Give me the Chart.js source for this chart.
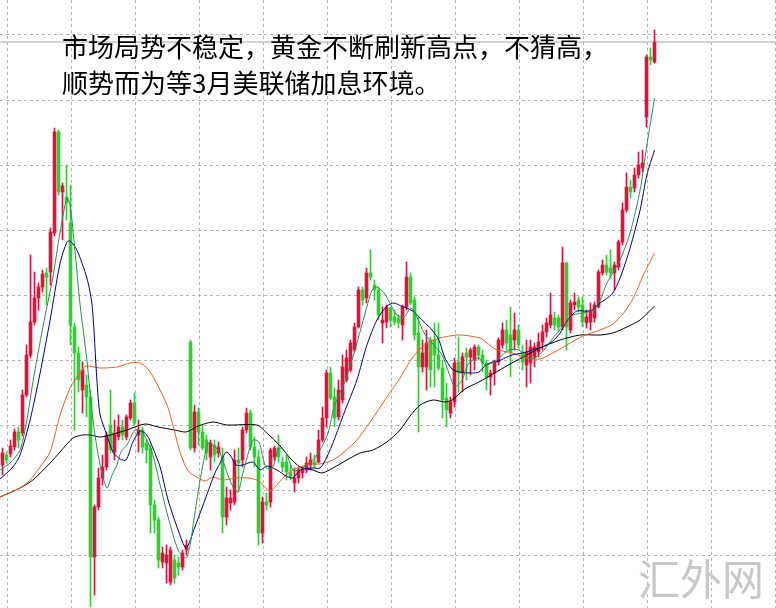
<!DOCTYPE html>
<html>
<head>
<meta charset="utf-8">
<title>黄金走势</title>
<script src="https://cdn.jsdelivr.net/npm/chart.js@4.4.1/dist/chart.umd.min.js"></script>
<style>
  html, body { margin: 0; padding: 0; background: #fff; }
  #wrap { position: relative; width: 776px; height: 608px; overflow: hidden; }
  #wrap canvas { position: absolute; left: 0; top: 0; }
  .note { position: absolute; left: 62px; top: 28px; font: 26px/36px "Noto Sans CJK SC", sans-serif; color: #000; white-space: nowrap; }
  .mark { position: absolute; left: 638px; top: 556px; font: 42px/42px "Noto Sans CJK SC", sans-serif; color: #c8c8c8; white-space: nowrap; }
</style>
</head>
<body>
<div id="wrap">
  <canvas id="kline" width="776" height="608"></canvas>
  <div class="note">市场局势不稳定，黄金不断刷新高点，不猜高，<br>顺势而为等3月美联储加息环境。</div>
  <div class="mark">汇外网</div>
</div>
<script>
// K线数据（每根一个值，按时间顺序）
const opens = [1635,1645,1646,1653,1668,1667,1705,1745,1778,1802,1813,1827,1828,1867,1968,1908,1903,1877,1773,1747,
  1710,1715,1703,1543,1593,1622,1633,1675,1648,1663,1673,1663,1682,1697,1665,1670,1657,1652,1595,1580,
  1538,1537,1518,1540,1537,1533,1550,1758,1652,1688,1668,1660,1643,1655,1647,1643,1583,1597,1598,1640,
  1640,1670,1687,1653,1643,1567,1598,1598,1643,1652,1638,1638,1628,1617,1622,1627,1630,1635,1638,1638,
  1660,1682,1727,1703,1683,1700,1720,1730,1750,1773,1810,1802,1827,1815,1810,1777,1778,1792,1783,1782,
  1775,1793,1823,1800,1767,1733,1733,1760,1760,1745,1732,1702,1687,1698,1738,1727,1747,1743,1740,1753,
  1745,1737,1723,1727,1738,1755,1770,1765,1760,1770,1748,1735,1737,1743,1748,1758,1768,1775,1782,1782,
  1773,1837,1770,1795,1800,1795,1777,1778,1782,1793,1827,1835,1832,1827,1833,1858,1890,1913,1912,1925,
  1932,1983,2043,2038];
const highs = [1652,1648,1660,1671,1673,1710,1755,1845,1828,1817,1830,1832,1872,1972,1970,1917,1935,1915,1777,1753,
  1738,1725,1710,1595,1632,1645,1668,1710,1680,1685,1680,1685,1700,1707,1680,1673,1660,1655,1600,1583,
  1553,1555,1553,1545,1543,1550,1560,1760,1695,1692,1675,1665,1660,1660,1658,1652,1613,1610,1650,1652,
  1673,1692,1690,1663,1650,1603,1607,1652,1654,1665,1643,1645,1635,1632,1633,1633,1643,1647,1645,1670,
  1693,1730,1733,1712,1720,1745,1750,1760,1777,1813,1813,1832,1850,1820,1813,1793,1795,1793,1790,1785,
  1795,1838,1827,1803,1783,1760,1770,1763,1777,1777,1740,1717,1703,1742,1763,1747,1752,1752,1755,1755,
  1750,1740,1730,1740,1762,1777,1780,1793,1787,1775,1755,1760,1760,1757,1767,1775,1782,1807,1788,1785,
  1853,1838,1800,1807,1803,1803,1790,1797,1798,1830,1840,1845,1850,1838,1860,1897,1927,1920,1932,1948,
  1950,2045,2052,2070];
const lows = [1625,1637,1643,1650,1652,1664,1703,1742,1775,1790,1808,1795,1815,1864,1905,1860,1880,1755,1670,1708,
  1687,1683,1493,1505,1590,1615,1630,1647,1640,1660,1660,1660,1680,1675,1648,1647,1637,1567,1567,1532,
  1532,1517,1515,1517,1525,1530,1545,1650,1648,1655,1650,1640,1630,1638,1643,1567,1575,1590,1595,1608,
  1633,1667,1650,1633,1555,1557,1590,1593,1640,1638,1628,1620,1620,1608,1617,1622,1627,1630,1632,1637,
  1658,1673,1700,1673,1680,1697,1718,1728,1748,1772,1795,1797,1820,1800,1780,1757,1772,1773,1775,1772,
  1760,1790,1795,1760,1668,1728,1710,1713,1713,1730,1682,1673,1682,1693,1708,1708,1720,1725,1730,1740,
  1728,1710,1705,1715,1735,1752,1750,1723,1750,1752,1730,1713,1717,1733,1743,1750,1763,1772,1770,1768,
  1770,1750,1767,1790,1788,1773,1772,1770,1778,1792,1825,1825,1822,1810,1830,1855,1888,1902,1908,1922,
  1928,1973,2035,2037];
const closes = [1647,1640,1654,1668,1660,1705,1745,1778,1802,1813,1826,1823,1868,1968,1908,1914,1897,1775,1747,1720,
  1730,1703,1543,1593,1622,1633,1665,1650,1667,1673,1665,1683,1697,1677,1670,1653,1650,1595,1580,1540,
  1547,1545,1550,1522,1533,1547,1555,1652,1688,1668,1652,1647,1657,1645,1653,1583,1602,1602,1640,1637,
  1670,1687,1653,1643,1567,1598,1595,1650,1652,1643,1633,1628,1623,1622,1630,1630,1637,1640,1635,1660,
  1682,1727,1702,1682,1710,1733,1742,1757,1773,1810,1800,1827,1823,1810,1785,1780,1793,1780,1778,1777,
  1793,1823,1797,1765,1733,1747,1757,1730,1745,1732,1700,1690,1698,1737,1727,1743,1743,1750,1753,1745,
  1737,1723,1727,1738,1760,1770,1757,1748,1770,1755,1738,1748,1753,1753,1758,1768,1777,1785,1775,1773,
  1837,1773,1797,1798,1793,1778,1783,1790,1795,1828,1835,1828,1827,1835,1858,1890,1913,1908,1925,1935,
  1937,2043,2040,2058];

// 均线（读图取点：K线序号 / 价格）
const maFastBar = [-0.6,1.9,4.4,6.1,7.6,10.1,12.6,14.4,16.1,16.9,18.1,19.4,21.1,22.6,24.4,26.1,27.4,28.6,29.6,31.1,
  33.1,34.6,36.1,37.6,39.4,41.4,43.9,45.9,46.9,48.1,49.4,50.6,51.4,53.1,54.4,55.9,57.6,58.9,60.1,62.6,
  64.1,65.9,67.6,69.1,70.9,72.6,74.1,75.9,77.6,79.1,81.4,82.9,85.4,87.9,90.4,92.4,93.6,95.4,97.1,98.6,
  100.4,102.1,103.6,105.4,107.4,109.9,111.6,113.1,114.9,116.6,119.1,120.6,122.9,124.1,126.6,129.1,131.6,133.1,135.4,137.6,
  141.1,142.6,145.1,147.6,149.4,151.1,152.6,154.4,156.9,159.4,161.1,163];
const maFastVal = [1630,1637,1650,1680,1718,1773,1823,1868,1902,1895,1850,1795,1740,1680,1635,1612,1625,1635,1648,1655,
  1670,1669,1660,1645,1615,1583,1550,1542,1555,1587,1620,1645,1657,1653,1647,1630,1613,1608,1627,1660,
  1658,1632,1633,1652,1647,1630,1630,1635,1640,1648,1667,1693,1717,1747,1783,1810,1813,1807,1795,1785,
  1783,1792,1783,1767,1757,1745,1727,1713,1720,1737,1742,1735,1738,1742,1750,1750,1742,1742,1750,1762,
  1778,1785,1787,1790,1800,1817,1827,1840,1867,1910,1955,2002];
const maMidBar = [-0.6,2.6,4.4,6.9,9.4,11.9,14.4,16.1,16.9,18.6,21.1,22.4,23.6,24.4,26.1,27.6,29.4,30.9,32.6,34.4,
  36.1,37.6,39.4,41.4,43.9,45.9,48.1,50.6,53.1,54.4,55.9,56.9,58.4,60.1,62.6,64.4,66.1,68.6,70.9,72.6,
  74.4,77.6,79.4,81.1,82.9,85.4,88.6,91.1,93.6,96.1,97.9,99.6,101.1,102.9,105.4,107.4,109.1,110.6,112.4,114.1,
  117.4,119.1,120.6,122.4,124.1,125.6,127.4,129.9,132.4,135.4,137.6,139.4,141.1,143.6,146.9,149.4,152.4,154.4,156.9,159.4,
  161.1,163];
const maMidVal = [1621,1633,1645,1680,1727,1780,1837,1858,1859,1850,1822,1795,1720,1685,1665,1648,1641,1640,1658,1669,
  1665,1652,1633,1600,1570,1552,1573,1600,1627,1637,1648,1645,1635,1635,1638,1630,1634,1630,1624,1622,
  1630,1632,1632,1643,1660,1687,1720,1755,1780,1794,1797,1794,1792,1788,1778,1770,1760,1742,1731,1728,
  1727,1728,1734,1738,1739,1742,1745,1747,1750,1754,1759,1767,1779,1789,1789,1797,1806,1822,1852,1890,
  1925,1950];
const maSlowBar = [-0.6,4.4,6.9,9.4,11.9,14.4,16.9,19.4,20.9,24.4,28.6,31.9,34.4,36.4,38.9,41.4,43.1,44.6,46.4,48.1,
  50.6,52.6,55.1,58.4,61.6,64.1,66.9,70.1,72.6,76.9,79.4,82.6,85.1,88.6,91.9,96.1,99.4,102.6,106.1,109.4,
  113.6,116.9,119.9,123.1,127.4,131.1,134.4,137.6,141.1,145.1,149.4,152.6,155.1,157.6,160.1,163];
const maSlowVal = [1603,1612,1620,1633,1648,1685,1712,1727,1734,1732,1733,1737,1737,1731,1714,1692,1667,1645,1629,1624,
  1619,1623,1620,1622,1622,1619,1609,1622,1630,1636,1636,1640,1647,1660,1678,1703,1722,1743,1757,1762,
  1765,1764,1761,1751,1747,1742,1741,1747,1755,1764,1770,1776,1786,1801,1824,1847];
const maLongBar = [-0.6,4.4,7.6,11.9,14.4,17.6,20.1,21.9,24.4,26.9,31.1,35.6,38.9,43.1,45.9,48.9,52.6,56.1,63.6,66.1,
  69.4,71.9,74.4,77.6,79.9,82.6,86.1,89.4,92.6,96.1,99.4,101.9,104.4,107.6,110.6,112.4,115.6,119.1,122.6,126.9,
  131.1,134.4,139.4,144.4,149.4,152.6,156.1,159.4,163];
const maLongVal = [1603,1612,1620,1637,1648,1662,1665,1665,1663,1665,1670,1676,1673,1670,1668,1674,1678,1675,1675,1667,
  1654,1642,1633,1630,1627,1632,1640,1647,1650,1658,1670,1684,1695,1700,1698,1700,1711,1718,1726,1736,
  1745,1752,1760,1765,1765,1767,1773,1780,1794];

// 网格刻度
const gridPrices = [2065, 2000, 1935, 1870, 1805, 1740, 1675, 1610, 1545];
const gridBars = [9.125, 25.125, 41.125, 57.125, 73.125, 89.125, 105.125, 121.125, 137.125, 153.125, 169.125, 185.125];

(() => {
  const RED = '#dc143c', GREEN = '#32cd32';
  const X_MIN = -0.625, X_MAX = 193.375;
  const isUp = i => closes[i] >= opens[i];
  const candleColor = ctx => isUp(ctx.dataIndex) ? RED : GREEN;

  const wicks = opens.map((_, i) => ({ x: i, y: [lows[i], highs[i]] }));
  const bodies = opens.map((_, i) => ({ x: i, y: [opens[i], closes[i]] }));
  const pts = (xs, ys) => xs.map((x, i) => ({ x: x, y: ys[i] }));
  const last = closes[closes.length - 1];

  const maLine = (data, color, order) => ({
    type: 'line', data: data, borderColor: color, borderWidth: 1,
    pointRadius: 0, tension: 0.25, fill: false, order: order
  });

  const gridOpts = { color: '#b4b4b4', lineWidth: 1, drawTicks: false };
  const borderOpts = { display: false, dash: [3, 3] };

  new Chart(document.getElementById('kline'), {
    type: 'bar',
    data: {
      datasets: [
        { type: 'line', data: [{ x: X_MIN, y: last }, { x: X_MAX, y: last }], borderColor: '#a8a8a8',
          borderWidth: 1, pointRadius: 0, order: 9 },
        { data: wicks, backgroundColor: candleColor, barThickness: 1, grouped: false, order: 6 },
        { data: bodies, backgroundColor: candleColor, barThickness: 3, minBarLength: 1, grouped: false, order: 5 },
        maLine(pts(maLongBar, maLongVal), '#000000', 4),
        maLine(pts(maSlowBar, maSlowVal), '#e8601c', 3),
        maLine(pts(maMidBar, maMidVal), '#000080', 2),
        maLine(pts(maFastBar, maFastVal), '#2e8b57', 1)
      ]
    },
    options: {
      responsive: false,
      animation: false,
      layout: { padding: 0 },
      plugins: { legend: { display: false }, tooltip: { enabled: false } },
      scales: {
        x: {
          type: 'linear', min: X_MIN, max: X_MAX, offset: false,
          grid: gridOpts, border: borderOpts, ticks: { display: false },
          afterBuildTicks: s => { s.ticks = gridBars.map(v => ({ value: v })); }
        },
        y: {
          min: 1492, max: 2100,
          grid: gridOpts, border: borderOpts, ticks: { display: false },
          afterBuildTicks: s => { s.ticks = gridPrices.map(v => ({ value: v })); }
        }
      }
    }
  });
})();
</script>
</body>
</html>
